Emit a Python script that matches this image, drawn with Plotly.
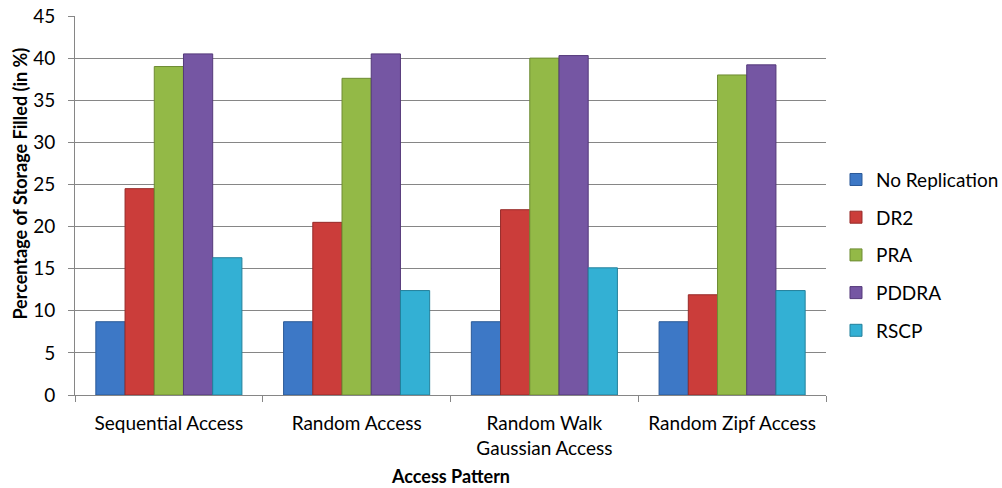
import plotly.graph_objects as go

categories = ["Sequential Access", "Random Access", "Random Walk<br>Gaussian Access", "Random Zipf Access"]
no_replication = [8.7, 8.7, 8.7, 8.7]
dr2 = [24.5, 20.5, 22.0, 11.9]
pra = [39.0, 37.6, 40.0, 38.0]
pddra = [40.5, 40.5, 40.3, 39.2]
rscp = [16.3, 12.4, 15.1, 12.4]

series = [
    ("No Replication", no_replication, "#3D78C6", "#2B5A98"),
    ("DR2", dr2, "#CB3D3A", "#962A28"),
    ("PRA", pra, "#93B947", "#6E8C33"),
    ("PDDRA", pddra, "#7556A3", "#54397A"),
    ("RSCP", rscp, "#33B0D4", "#23819C"),
]

fig = go.Figure()
for i, (name, vals, col, edge) in enumerate(series):
    fig.add_trace(go.Bar(
        x=categories, y=vals, name=name, legendgroup=str(i),
        marker=dict(color=col, line=dict(color=edge, width=1)),
    ))

font = "Lato, 'Open Sans', sans-serif"
fig.update_layout(
    width=1002, height=488,
    margin=dict(l=75, r=176, t=16, b=93, autoexpand=False),
    paper_bgcolor="white", plot_bgcolor="white",
    barmode="group", bargap=0.222, bargroupgap=0,
    font=dict(family=font, size=19, color="#000000"),
    legend=dict(x=1.0133, y=0.369, yanchor="middle", xanchor="left",
                tracegroupgap=10, font=dict(size=19), itemwidth=30),
    xaxis=dict(
        automargin=False,
        showline=True, linecolor="#868686", linewidth=1,
        ticks="outside", tickson="boundaries", ticklen=6, tickcolor="#868686",
        ticklabelstandoff=11,
    ),
    yaxis=dict(
        automargin=False,
        range=[0, 45], dtick=5, showgrid=True, gridcolor="#868686", gridwidth=1,
        showline=True, linecolor="#868686", linewidth=1,
        ticks="outside", ticklen=6, tickcolor="#868686",
        ticklabelstandoff=9, ticklabeloverflow="allow",
        zeroline=False,
    ),
    annotations=[
        dict(text="<b>Access Pattern</b>", xref="paper", yref="paper",
             x=0.5, y=-0.2138, xanchor="center", yanchor="middle",
             showarrow=False, font=dict(size=18)),
        dict(text="<b>Percentage of Storage Filled (in %)</b>", xref="paper", yref="paper",
             x=-0.0726, y=0.559, xanchor="center", yanchor="middle", textangle=-90,
             showarrow=False, font=dict(size=18)),
    ],
)

fig.write_html("out.html", config={"displayModeBar": False},
               post_script="document.body.style.margin='0';")
